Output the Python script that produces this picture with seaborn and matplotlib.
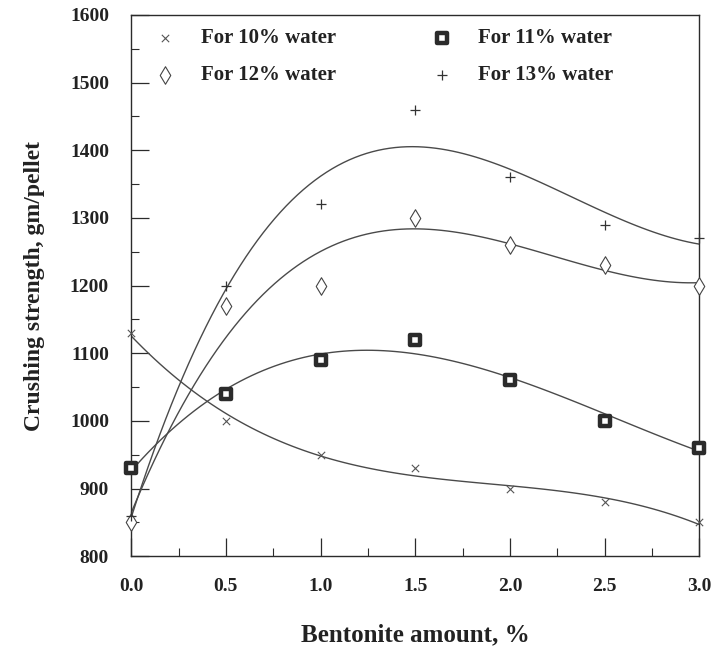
import matplotlib
matplotlib.use("Agg")
import matplotlib.pyplot as plt
import seaborn as sns
import numpy as np
import pandas as pd
from matplotlib.ticker import MultipleLocator

# Bentonite addition (%) and measured crushing strength (gm/pellet)
bentonite = [0.0, 0.5, 1.0, 1.5, 2.0, 2.5, 3.0]
water_10 = [1130, 1000, 950, 930, 900, 880, 850]
water_11 = [930, 1040, 1090, 1120, 1060, 1000, 960]
water_12 = [850, 1170, 1200, 1300, 1260, 1230, 1200]
water_13 = [860, 1200, 1320, 1460, 1360, 1290, 1270]

series_labels = ["For 10% water", "For 11% water", "For 12% water", "For 13% water"]
x_ticks = [0.0, 0.5, 1.0, 1.5, 2.0, 2.5, 3.0]
y_ticks = [800, 900, 1000, 1100, 1200, 1300, 1400, 1500, 1600]

sns.set_theme(style="ticks")
plt.rcParams["font.family"] = ["Liberation Serif", "DejaVu Serif"]

fig = plt.figure(figsize=(7.13, 6.49), dpi=100)
ax = fig.add_axes([0.184, 0.143, 0.797, 0.834])

ink = "#2b2b2b"
line_col = "#4a4a4a"

series = [water_10, water_11, water_12, water_13]
styles = [
    dict(marker="x", s=28, color="#555555", linewidths=0.8),
    dict(marker="s", s=44, facecolor="white", edgecolor=ink, linewidths=3.2),
    dict(marker="d", s=80, facecolor="white", edgecolor="#444444", linewidths=0.8),
    dict(marker="+", s=55, color="#333333", linewidths=0.9),
]

for vals, lab, st in zip(series, series_labels, styles):
    df = pd.DataFrame({"x": bentonite, "y": vals})
    sns.regplot(data=df, x="x", y="y", order=3, ci=None, scatter=False,
                ax=ax, line_kws=dict(color=line_col, lw=1.0))
    sns.scatterplot(data=df, x="x", y="y", ax=ax, label=lab, zorder=5,
                    clip_on=False, **st)

ax.set_xlim(0, 3.0)
ax.set_ylim(800, 1600)
ax.set_xticks(x_ticks)
ax.set_xticklabels([f"{v:.1f}" for v in x_ticks])
ax.set_yticks(y_ticks)
ax.set_yticklabels([str(v) for v in y_ticks])
ax.xaxis.set_minor_locator(MultipleLocator(0.25))
ax.yaxis.set_minor_locator(MultipleLocator(50))

ax.tick_params(which="major", direction="in", length=13, width=0.9, color=ink,
               labelsize=14, labelcolor="#222222", pad=16)
ax.tick_params(which="minor", direction="in", length=6, width=0.8, color=ink)
for lbl in ax.get_xticklabels() + ax.get_yticklabels():
    lbl.set_fontweight("bold")

for sp in ax.spines.values():
    sp.set_color(ink)
    sp.set_linewidth(1.0)

ax.set_xlabel("Bentonite amount, %", fontsize=18, fontweight="bold",
              color="#222222", labelpad=20)
ax.set_ylabel("Crushing strength, gm/pellet", fontsize=17, fontweight="bold",
              color="#222222", labelpad=18)

# two rows: 10% / 11% on top, 12% / 13% below
handles, labels = ax.get_legend_handles_labels()
order = [0, 2, 1, 3]
leg = ax.legend([handles[i] for i in order], [labels[i] for i in order],
                ncol=2, loc="upper left", bbox_to_anchor=(0.042, 0.975),
                frameon=False, borderpad=0, borderaxespad=0,
                handletextpad=1.2, columnspacing=4.6,
                handlelength=1.0, labelspacing=0.8,
                prop=dict(family="Liberation Serif", weight="bold", size=15))
for t in leg.get_texts():
    t.set_color("#222222")

fig.savefig("out.png", dpi=100, facecolor="white")
